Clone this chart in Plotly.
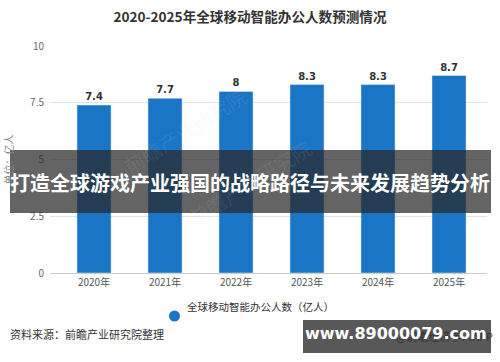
import plotly.graph_objects as go

categories = ["2020年", "2021年", "2022年", "2023年", "2024年", "2025年"]
values = [7.4, 7.7, 8, 8.3, 8.3, 8.7]
y_ticks = [0, 2.5, 5, 7.5, 10]
series_name = "全球移动智能办公人数（亿人）"

W, H = 500, 362
L, R = 50, 487
T, B = 46, 273

def px(x):
    return (x - L) / (R - L)

def py(y):
    return (B - y) / (B - T)

BAR_COLOR = "#1b75c7"
font_cn = "Noto Sans CJK SC, Noto Sans, sans-serif"

fig = go.Figure()
fig.add_trace(go.Bar(
    x=list(range(len(categories))), y=values,
    marker_color=BAR_COLOR, width=0.48,
    texttemplate="<b>%{y}</b>", textposition="outside",
    textfont=dict(size=10, color="#333", family="DejaVu Sans, sans-serif"),
    cliponaxis=False, showlegend=False, hoverinfo="skip",
))

fig.update_layout(
    width=W, height=H,
    margin=dict(l=L, r=W - R, t=T, b=H - B, autoexpand=False),
    paper_bgcolor="white", plot_bgcolor="white",
    font=dict(family=font_cn, color="#555"),
    title=dict(text="<b>2020-2025年全球移动智能办公人数预测情况</b>",
               x=0.5, xanchor="center", y=1 - 17 / H, yanchor="middle",
               font=dict(size=13.6, color="#333", family=font_cn)),
    xaxis=dict(tickmode="array", tickvals=list(range(len(categories))), ticktext=categories,
               range=[-0.62, 5.535], showgrid=False, showline=True, linecolor="#ccc",
               tickfont=dict(size=10, color="#555"), ticks=""),
    yaxis=dict(range=[0, 10], tickvals=y_ticks, ticktext=["0", "2.5", "5", "7.5", "10"],
               gridcolor="#e3e3e3", zeroline=False, showline=False,
               tickfont=dict(size=10, color="#666"), ticklabelstandoff=5,
               title=dict(text="单位：亿人", font=dict(size=10, color="#888"), standoff=14)),
    showlegend=False,
)

# faint watermark
for (wx, wy) in [(185, 78), (250, 235)]:
    fig.add_annotation(x=px(wx), y=py(wy), xref="paper", yref="paper", xanchor="center",
                       text="前瞻产业研究院", showarrow=False, textangle=-32,
                       font=dict(size=20, color="rgba(200,215,230,0.10)"))

# legend (drawn manually)
fig.add_shape(type="circle", xref="paper", yref="paper",
              x0=px(169), x1=px(180), y0=py(321.5), y1=py(310.5),
              fillcolor=BAR_COLOR, line_width=0)
fig.add_annotation(x=px(185), y=py(316), xref="paper", yref="paper", xanchor="left",
                   text=series_name, showarrow=False,
                   font=dict(size=10.5, color="#333"))

# dark overlay band
fig.add_shape(type="rect", xref="paper", yref="paper",
              x0=px(10), x1=px(491), y0=py(213), y1=py(150),
              fillcolor="rgba(40,40,40,0.72)", line_width=0, layer="above")
fig.add_annotation(x=px(250), y=py(182), xref="paper", yref="paper", xanchor="center",
                   text="<b>打造全球游戏产业强国的战略路径与未来发展趋势分析</b>",
                   showarrow=False, font=dict(size=20, color="white", family=font_cn))

# source text
fig.add_annotation(x=px(8), y=py(344), xref="paper", yref="paper", xanchor="left",
                   text="资料来源：前瞻产业研究院整理", showarrow=False,
                   font=dict(size=11, color="#333"))

# bottom box
fig.add_shape(type="rect", xref="paper", yref="paper",
              x0=px(303), x1=px(491), y0=py(353), y1=py(320),
              fillcolor="rgba(65,65,65,0.88)", line_width=0, layer="above")
fig.add_annotation(x=px(495), y=py(346), xref="paper", yref="paper", xanchor="right",
                   text="@前瞻经济学人APP", showarrow=False,
                   font=dict(size=11, color="rgba(40,40,40,0.8)"))
fig.add_annotation(x=px(396), y=py(333), xref="paper", yref="paper", xanchor="center",
                   yanchor="middle",
                   text="<b>www.89000079.com</b>", showarrow=False,
                   font=dict(size=16, color="white", family="DejaVu Sans, sans-serif"))

fig.write_html("out.html", config={"displayModeBar": False, "staticPlot": True},
               post_script="document.body.style.margin='0';document.body.style.overflow='hidden';")
